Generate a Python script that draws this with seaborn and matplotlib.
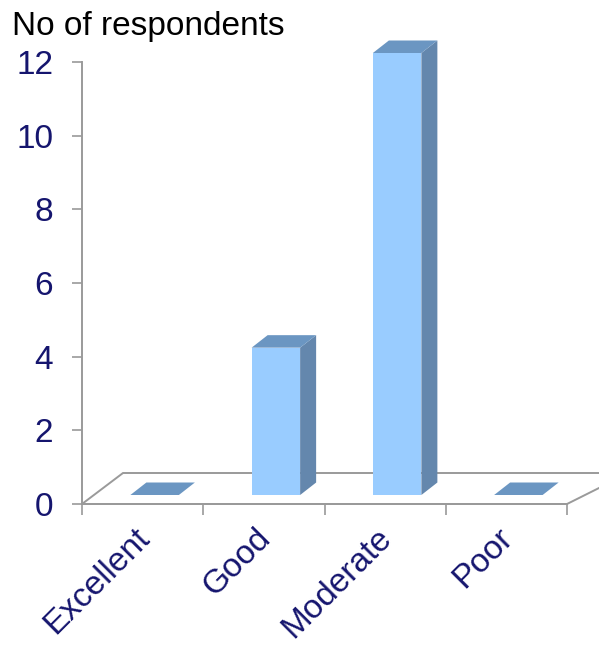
import matplotlib
matplotlib.use("Agg")
import matplotlib.pyplot as plt
from matplotlib.patches import Polygon, Rectangle
from matplotlib.transforms import ScaledTranslation
import seaborn as sns
import pandas as pd

# Survey answers
categories = ["Excellent", "Good", "Moderate", "Poor"]
respondents = [0, 4, 12, 0]
y_ticks = [0, 2, 4, 6, 8, 10, 12]
y_title = "No of respondents"

FRONT = "#99ccff"
SIDE = "#6487ad"
TOP = "#6b96c2"
AXIS = "#9a9a9a"
TEXT = "#15156e"

sns.set_theme(style="white")
plt.rcParams["font.family"] = ["Liberation Sans", "DejaVu Sans"]

DPI = 100
fig = plt.figure(figsize=(5.99, 6.5), dpi=DPI)
ax = fig.add_axes([82 / 599, (650 - 504) / 650, (567 - 82) / 599, (504 - 62) / 650])
ax.set_facecolor("none")


def px(dx, dy):
    """Offset in screen pixels (dy positive = upwards)."""
    return ScaledTranslation(dx / DPI, dy / DPI, fig.dpi_scale_trans)


df = pd.DataFrame({"category": categories, "count": respondents})

sns.barplot(data=df, x="category", y="count", color=FRONT, width=0.4,
            saturation=1, ax=ax, zorder=3, linewidth=0)
x0, x1 = -0.5, len(categories) - 0.5
ax.set_xlim(x0, x1)
ax.set_ylim(0, 12)
bars = [p for p in ax.patches if isinstance(p, Rectangle)]

fig.canvas.draw()
inv = ax.transData.inverted()


def to_data(x, y, dx=0, dy=0):
    X, Y = ax.transData.transform((x, y))
    return inv.transform((X + dx, Y + dy))


# floor parallelogram (perspective makes the right depth edge wider)
corners = [to_data(x0, 0), to_data(x1, 0), to_data(x1, 0, 62, 31), to_data(x0, 0, 41, 31)]
ax.add_patch(Polygon(corners, closed=True, facecolor="white", edgecolor=AXIS,
                     linewidth=1.4, zorder=1, clip_on=False))

# move bar fronts to mid-depth of the floor and add side and top faces
DX, DY = 16, 12.5
tr = ax.transData + px(12, 9)
for bar in bars:
    bar.set_transform(tr)
    bar.set_clip_on(False)
    bx, by = bar.get_x(), bar.get_y()
    w, h = bar.get_width(), bar.get_height()
    side = [to_data(bx + w, by), to_data(bx + w, by + h),
            to_data(bx + w, by + h, DX, DY), to_data(bx + w, by, DX, DY)]
    ax.add_patch(Polygon(side, closed=True, facecolor=SIDE, edgecolor="none",
                         transform=tr, zorder=3, clip_on=False))
    top = [to_data(bx, by + h), to_data(bx + w, by + h),
           to_data(bx + w, by + h, DX, DY), to_data(bx, by + h, DX, DY)]
    ax.add_patch(Polygon(top, closed=True, facecolor=TOP, edgecolor="none",
                         transform=tr, zorder=4, clip_on=False))

# axes styling
for s in ["top", "right"]:
    ax.spines[s].set_visible(False)
for s in ["left", "bottom"]:
    ax.spines[s].set_visible(True)
    ax.spines[s].set_color(AXIS)
    ax.spines[s].set_linewidth(1.4)
    ax.spines[s].set_zorder(5)

ax.set_yticks(y_ticks)
ax.set_yticklabels([str(t) for t in y_ticks])
ax.tick_params(axis="y", length=7.2, width=1.2, color=AXIS, left=True,
               labelsize=24, labelcolor=TEXT, pad=13.5)

ax.set_xticks(range(len(categories)))
ax.set_xticklabels(categories, rotation=45, ha="right", rotation_mode="anchor")
ax.tick_params(axis="x", length=0, labelsize=24, labelcolor=TEXT, pad=13)
ax.set_xticks([i - 0.5 for i in range(len(categories) + 1)], minor=True)
ax.tick_params(axis="x", which="minor", length=8, width=1.2, color=AXIS, bottom=True)
for lbl in ax.get_xticklabels():
    lbl.set_transform(lbl.get_transform() + px(-9, 0))

ax.set_xlabel("")
ax.set_ylabel("")
fig.text(12 / 599, 1 - 35 / 650, y_title, fontsize=24, color="black",
         ha="left", va="baseline")

fig.savefig("out.png", dpi=DPI)
